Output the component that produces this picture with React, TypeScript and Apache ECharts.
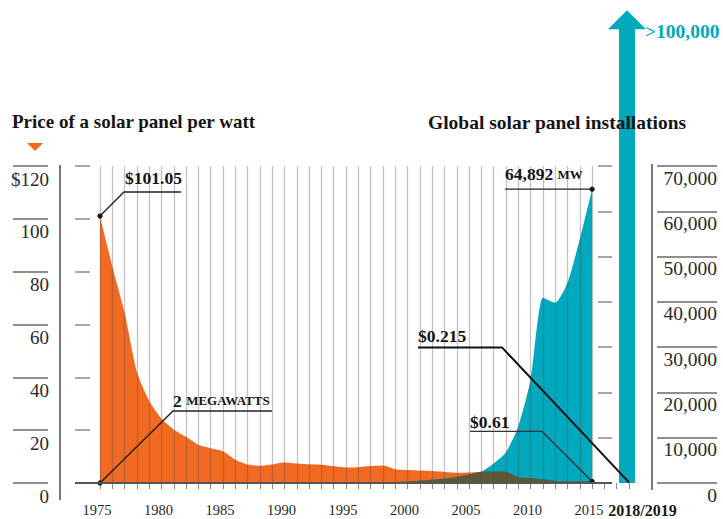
import React, { useEffect, useRef } from 'react';
import * as echarts from 'echarts';

// ---- data ---------------------------------------------------------------
const years = [
  1975, 1976, 1977, 1978, 1979, 1980, 1981, 1982, 1983, 1984,
  1985, 1986, 1987, 1988, 1989, 1990, 1991, 1992, 1993, 1994,
  1995, 1996, 1997, 1998, 1999, 2000, 2001, 2002, 2003, 2004,
  2005, 2006, 2007, 2008, 2009, 2010, 2011, 2012, 2013, 2014, 2015,
];

// Average module price, US$ per watt
const pricePerWatt = [
  101.05, 82, 64.5, 42, 31, 24.3, 20.2, 17.5, 14.5, 13.2,
  12, 8.8, 7, 6.5, 7.1, 7.8, 7.4, 7.1, 6.9, 6.3,
  5.9, 6.0, 6.4, 6.6, 5.2, 4.9, 4.7, 4.5, 4.2, 3.9,
  4.0, 4.3, 4.4, 4.3, 2.2, 1.9, 1.4, 0.8, 0.7, 0.65, 0.61,
];

// Global solar panel installations per year, MW
const installedMW = [
  2, 3, 4, 6, 8, 10, 14, 18, 22, 25,
  28, 32, 36, 40, 45, 50, 56, 60, 65, 70,
  80, 90, 125, 155, 200, 350, 500, 700, 1000, 1400,
  1900, 2500, 4300, 6800, 12500, 22800, 40900, 39800, 44200, 53800, 64892,
];

const PRICE_MAX = 120;
const PRICE_STEP = 20;
const INSTALL_MAX = 70000;
const INSTALL_STEP = 10000;
const AXIS_END_YEAR = 2018;
const AXIS_END_LABEL = '2018/2019';
const LABEL_EVERY = 5;

// Projected figures shown past the last data year
const outlookYear = 2018;
const outlookInstalledMW = 100000;
const outlookInstalledLabel = '>100,000';

// Callouts on the price scale
const priceNotes = [
  { year: 1975, value: 101.05, label: '$101.05' },
  { year: 2015, value: 0.61, label: '$0.61' },
  { year: 2018, value: 0.215, label: '$0.215' },
];

// Callouts on the installation scale
const installNotes = [
  { year: 1975, value: 2, label: '2', unit: 'MEGAWATTS' },
  { year: 2015, value: 64892, label: '64,892', unit: 'MW' },
];

// ---- styling ------------------------------------------------------------
const ORANGE = '#f26a22';
const TEAL = '#00a9be';
const OLIVE = '#5f5838';
const INK = '#151515';
const SERIF = '"Liberation Serif", "DejaVu Serif", serif';

// leader geometry (pixel offsets from the anchored data point)
const priceLeaders = [
  { pts: [[0, 0], [24, -24], [81, -24]], text: [25, -38], dot: true, width: 1.4, color: '#222' },
  { pts: [[0, 0], [-50, -50], [-122, -50]], text: [-122, -59], dot: true, width: 1.4, color: '#333' },
  { pts: [[0, 0], [-127, -135], [-211, -135]], text: [-211, -146], dot: false, width: 2, color: '#111' },
];
const installLeaders = [
  { pts: [[0, 0], [73, -72], [172, -72]], text: [73, -82], dot: true, width: 1.4, color: '#222' },
  { pts: [[0, 0], [-87, 0]], text: [-87, -15], dot: true, width: 1.4, color: '#222' },
];

type Note = { year: number; value: number; label: string; unit?: string };
type Leader = { pts: number[][]; text: number[]; dot: boolean; width: number; color: string };

function noteRenderer(notes: Note[], leaders: Leader[]) {
  return (params: any, api: any) => {
    const i = params.dataIndex;
    const n = notes[i];
    const L = leaders[i];
    const [ax, ay] = api.coord([api.value(0), api.value(1)]);
    const children: any[] = [
      {
        type: 'polyline',
        shape: { points: L.pts.map(([dx, dy]) => [ax + dx, ay + dy]) },
        style: { stroke: L.color, lineWidth: L.width, fill: 'none' },
      },
    ];
    if (L.dot) {
      children.push({ type: 'circle', shape: { cx: ax, cy: ay, r: 2.6 }, style: { fill: INK } });
    }
    children.push({
      type: 'text',
      x: ax + L.text[0],
      y: ay + L.text[1],
      style: {
        text: n.unit ? `{v|${n.label}} {u|${n.unit}}` : n.label,
        fill: INK,
        fontFamily: SERIF,
        fontWeight: 'bold',
        fontSize: 17.5,
        align: 'left',
        verticalAlign: 'middle',
        rich: {
          v: { fontFamily: SERIF, fontWeight: 'bold', fontSize: 17.5, fill: INK },
          u: { fontFamily: SERIF, fontWeight: 'bold', fontSize: 13, fill: INK },
        },
      },
    });
    return { type: 'group', children };
  };
}

function buildOption(): any {
  const priceData = years.map((y, i) => [y, pricePerWatt[i]]);
  const installData = years.map((y, i) => [y, installedMW[i]]);
  // overlap of the two areas, expressed on the installation scale
  const overlapData = years.map((y, i) => [
    y,
    Math.min((pricePerWatt[i] * INSTALL_MAX) / PRICE_MAX, installedMW[i]),
  ]);

  const labelFont = { fontFamily: SERIF, color: '#2a2a2a' };

  return {
    animation: false,
    backgroundColor: '#ffffff',
    grid: { left: 100, top: 166, width: 529, height: 317, containLabel: false },
    xAxis: {
      type: 'value',
      min: years[0],
      max: AXIS_END_YEAR,
      interval: 1,
      offset: 6,
      axisLine: { show: false },
      splitLine: { show: false },
      axisTick: { show: true, length: 6, lineStyle: { color: '#8a8a8a', width: 1 } },
      axisLabel: {
        ...labelFont,
        fontSize: 14.5,
        margin: 13,
        showMinLabel: true,
        showMaxLabel: true,
        formatter: (v: number) => {
          if (v === AXIS_END_YEAR) return `{b|${AXIS_END_LABEL}}`;
          if (v <= years[years.length - 1] && (v - years[0]) % LABEL_EVERY === 0) return `{y|${v}}`;
          return '';
        },
        rich: {
          y: { fontFamily: SERIF, fontSize: 14.5, color: '#2a2a2a', padding: [0, 6, 0, 0] },
          b: { fontFamily: SERIF, fontWeight: 'bold', fontSize: 16, color: '#1a1a1a', padding: [0, 0, 0, 27] },
        },
      },
    },
    yAxis: [
      {
        type: 'value',
        position: 'left',
        offset: 10,
        min: 0,
        max: PRICE_MAX,
        interval: PRICE_STEP,
        axisLine: { show: false },
        splitLine: { show: false },
        axisTick: { show: true, length: 15, lineStyle: { color: '#a8a8a8', width: 2 } },
        axisLabel: {
          ...labelFont,
          fontSize: 19,
          margin: 41,
          verticalAlign: 'top',
          lineHeight: 20,
          padding: [3, 0, 0, 0],
          formatter: (v: number) => (v === PRICE_MAX ? `$${v}` : String(v)),
        },
      },
      {
        type: 'value',
        position: 'left',
        offset: 52,
        min: 0,
        max: PRICE_MAX,
        interval: PRICE_STEP,
        axisLine: { show: false },
        splitLine: { show: false },
        axisTick: { show: true, length: 35, lineStyle: { color: '#8e8e8e', width: 2 } },
        axisLabel: { show: false },
      },
      {
        type: 'value',
        position: 'right',
        offset: 28,
        min: 0,
        max: INSTALL_MAX,
        interval: INSTALL_STEP,
        axisLine: { show: false },
        splitLine: { show: false },
        axisTick: { show: true, length: 60, lineStyle: { color: '#8e8e8e', width: 2 } },
        axisLabel: {
          ...labelFont,
          fontSize: 19.5,
          margin: 60,
          align: 'right',
          verticalAlign: 'top',
          lineHeight: 20,
          padding: [2, 0, 0, 0],
          formatter: (v: number) => v.toLocaleString('en-US'),
        },
      },
      {
        type: 'value',
        position: 'right',
        offset: -17,
        min: 0,
        max: INSTALL_MAX,
        interval: INSTALL_STEP,
        axisLine: { show: false },
        splitLine: { show: false },
        axisTick: { show: true, inside: true, length: 14, lineStyle: { color: '#a8a8a8', width: 2 } },
        axisLabel: { show: false },
      },
    ],
    series: [
      {
        name: 'Price per watt',
        type: 'line',
        yAxisIndex: 0,
        data: priceData,
        smooth: 0.2,
        showSymbol: false,
        lineStyle: { width: 0 },
        areaStyle: { color: ORANGE, opacity: 1 },
        z: 2,
        silent: true,
      },
      {
        name: 'Installations',
        type: 'line',
        yAxisIndex: 2,
        data: installData,
        smooth: 0.2,
        showSymbol: false,
        lineStyle: { width: 0 },
        areaStyle: { color: TEAL, opacity: 1 },
        z: 3,
        silent: true,
      },
      {
        name: 'Overlap',
        type: 'line',
        yAxisIndex: 2,
        data: overlapData,
        smooth: 0.2,
        showSymbol: false,
        lineStyle: { width: 0 },
        areaStyle: { color: OLIVE, opacity: 1 },
        z: 4,
        silent: true,
      },
      {
        // yearly rules drawn over the areas
        name: 'Year rules',
        type: 'line',
        yAxisIndex: 0,
        data: priceData,
        showSymbol: false,
        lineStyle: { opacity: 0 },
        z: 5,
        silent: true,
        markLine: {
          silent: true,
          symbol: ['none', 'none'],
          label: { show: false },
          lineStyle: { color: 'rgba(70,70,70,0.32)', width: 1.3, type: 'solid' },
          data: years.map((y) => ({ xAxis: y })),
        },
      },
      {
        name: 'Outlook',
        type: 'custom',
        yAxisIndex: 2,
        clip: false,
        z: 6,
        silent: true,
        data: [[outlookYear, outlookInstalledMW]],
        encode: { x: 0, y: 1 },
        renderItem: (params: any, api: any) => {
          const top = api.coord([api.value(0), api.value(1)]);
          const base = api.coord([api.value(0), 0]);
          const cx = top[0] - 2;
          return {
            type: 'group',
            children: [
              {
                type: 'rect',
                shape: { x: cx - 8, y: top[1] - 2, width: 16, height: base[1] - top[1] + 2 },
                style: { fill: TEAL },
              },
              {
                type: 'polygon',
                shape: { points: [[cx - 19, top[1] - 1], [cx + 19, top[1] - 1], [cx, top[1] - 20]] },
                style: { fill: TEAL },
              },
              {
                type: 'text',
                x: cx + 18,
                y: top[1] + 1,
                style: {
                  text: outlookInstalledLabel,
                  fill: TEAL,
                  fontFamily: SERIF,
                  fontWeight: 'bold',
                  fontSize: 19.5,
                  align: 'left',
                  verticalAlign: 'middle',
                },
              },
            ],
          };
        },
      },
      {
        name: 'Price notes',
        type: 'custom',
        yAxisIndex: 0,
        clip: false,
        z: 10,
        silent: true,
        data: priceNotes.map((n) => [n.year, n.value]),
        encode: { x: 0, y: 1 },
        renderItem: noteRenderer(priceNotes, priceLeaders),
      },
      {
        name: 'Installation notes',
        type: 'custom',
        yAxisIndex: 2,
        clip: false,
        z: 10,
        silent: true,
        data: installNotes.map((n) => [n.year, n.value]),
        encode: { x: 0, y: 1 },
        renderItem: noteRenderer(installNotes, installLeaders),
      },
    ],
    graphic: [
      {
        type: 'text',
        left: 12,
        top: 112,
        z: 50,
        style: {
          text: 'Price of a solar panel per watt',
          fill: INK,
          fontFamily: SERIF,
          fontWeight: 'bold',
          fontSize: 19,
        },
      },
      {
        type: 'polygon',
        z: 50,
        shape: { points: [[27, 143], [43, 143], [35, 151]] },
        style: { fill: ORANGE },
      },
      {
        type: 'text',
        left: 428,
        top: 112,
        z: 50,
        style: {
          text: 'Global solar panel installations',
          fill: INK,
          fontFamily: SERIF,
          fontWeight: 'bold',
          fontSize: 19.5,
        },
      },
      {
        type: 'line',
        z: 50,
        shape: { x1: 60, y1: 165, x2: 60, y2: 500 },
        style: { stroke: '#7a7a7a', lineWidth: 2 },
      },
      {
        type: 'line',
        z: 50,
        shape: { x1: 652, y1: 164, x2: 652, y2: 490 },
        style: { stroke: '#7a7a7a', lineWidth: 2 },
      },
      {
        type: 'line',
        z: 50,
        shape: { x1: 75, y1: 483, x2: 612, y2: 483 },
        style: { stroke: '#555555', lineWidth: 2 },
      },
    ],
  };
}

export default function App() {
  const ref = useRef<HTMLDivElement>(null);
  useEffect(() => {
    if (!ref.current) return;
    const chart = echarts.init(ref.current, null, { renderer: 'svg' });
    chart.setOption(buildOption());
    return () => chart.dispose();
  }, []);
  return (
    <div
      ref={ref}
      style={{ position: 'absolute', left: 0, top: 0, width: 723, height: 519, background: '#fff' }}
    />
  );
}
